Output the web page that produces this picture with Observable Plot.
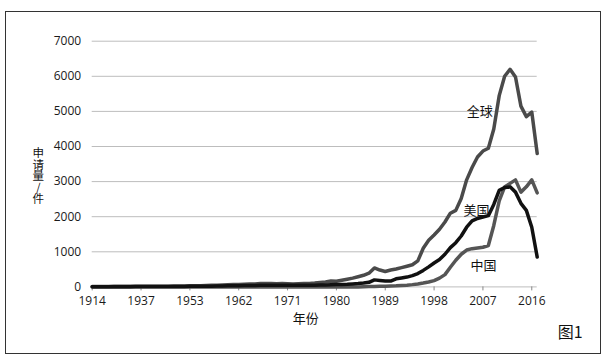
<!DOCTYPE html>
<html><head><meta charset="utf-8">
<script src="https://cdn.jsdelivr.net/npm/d3@7"></script>
<script src="https://cdn.jsdelivr.net/npm/@observablehq/plot@0.6"></script>
<style>
body{margin:0;background:#fff;}
#wrap{position:relative;width:610px;height:363px;}
#border{position:absolute;left:5px;top:11px;width:596px;height:343px;border:1px solid #333;box-sizing:border-box;}
#wrap svg{position:absolute;left:0;top:0;}
</style></head><body><div id="wrap"><div id="border"></div></div>
<script>
const years = [1914,1920,1922,1925,1927,1929,1931,1933,1935,1937,1939,1941,1943,1945,1947,1949,1950,1952,
1953,1954,1955,1956,1957,1958,1959,1960,1961,1962,1963,1964,1965,1966,1967,1968,1969,1970,
1971,1972,1973,1974,1975,1976,1977,1978,1979,1980,1981,1982,1983,1984,1985,1986,1987,1988,
1989,1990,1991,1992,1993,1994,1995,1996,1997,1998,1999,2000,2001,2002,2003,2004,2005,2006,
2007,2008,2009,2010,2011,2012,2013,2014,2015,2016,2017];
const tickYears = [1914,1937,1953,1962,1971,1980,1989,1998,2007,2016];
const yTicks = [0,1000,2000,3000,4000,5000,6000,7000];
const globalValues = [10,10,12,12,15,15,15,18,18,20,20,20,20,22,22,25,25,28,
30,32,35,40,45,50,55,60,65,70,75,80,85,95,100,95,90,95,
90,85,90,95,100,110,125,140,170,160,190,220,250,290,330,390,540,480,
440,480,510,550,590,630,740,1100,1330,1480,1640,1850,2100,2180,2520,3050,3400,3700,
3870,3950,4500,5450,6000,6200,5980,5150,4850,4980,3800];
const usValues = [5,5,5,5,6,6,6,6,8,8,8,8,10,10,10,12,12,12,
15,15,18,20,22,25,28,30,32,35,38,40,42,45,48,50,50,48,
46,45,45,46,48,50,52,55,60,65,70,75,85,95,110,130,200,185,
170,165,230,255,280,320,380,470,570,680,780,930,1120,1260,1450,1700,1880,1950,
1990,2030,2350,2750,2830,2850,2700,2380,2180,1700,850];
const chinaValues = [0,0,0,0,0,0,0,0,0,0,0,0,0,0,0,0,0,0,
0,0,0,0,0,0,0,0,0,0,0,0,0,0,0,0,0,0,
0,0,0,0,0,0,0,0,0,0,0,0,0,0,5,8,12,15,
20,25,30,40,50,65,85,110,140,180,250,350,560,760,930,1050,1090,1110,
1130,1180,1750,2450,2850,2950,3050,2700,2850,3050,2680];
const seriesNames = ["全球","美国","中国"];
const labelIdx = [71.4,70.8,72.1];
const labelVal = [5000,2177,610];
const yTitle = "申请量/件";

const rows = s => years.map((yr,i)=>({i, year:yr, v:s[i]}));
const labels = seriesNames.map((n,k)=>({name:n, i:labelIdx[k], v:labelVal[k]}));
const idxOf = y => years.indexOf(y);
const cjk = "'Noto Sans CJK SC', sans-serif";

const chart = Plot.plot({
  width:610, height:363,
  marginLeft:91.7, marginRight:73.3, marginTop:40.7, marginBottom:76.6,
  x:{type:"linear", domain:[0, years.length-1]},
  y:{domain:[0,7000]},
  style:{fontFamily:"'Open Sans', sans-serif", fontSize:"12px", color:"#1a1a1a", background:"transparent"},
  marks:[
    Plot.gridY(yTicks,{stroke:"#bdbdbd", strokeOpacity:1, strokeWidth:1}),
    Plot.axisY(yTicks,{tickSize:0, tickPadding:11, label:null, fontSize:12, tickFormat:d=>String(d)}),
    Plot.axisX(tickYears.map(idxOf),{tickSize:4, stroke:"#888", tickPadding:6, label:null, fontSize:12, tickFormat:i=>String(years[i])}),
    Plot.line(rows(globalValues),{x:"i", y:"v", stroke:"#4a4a4a", strokeWidth:3.5, strokeLinejoin:"round"}),
    Plot.line(rows(chinaValues),{x:"i", y:"v", stroke:"#555", strokeWidth:3.5, strokeLinejoin:"round"}),
    Plot.line(rows(usValues),{x:"i", y:"v", stroke:"#111", strokeWidth:3.5, strokeLinejoin:"round"}),
    Plot.text(labels,{x:"i", y:"v", text:"name", fontSize:13, fill:"#111", fontFamily:cjk}),
    Plot.text(["年份"],{frameAnchor:"bottom", text:d=>d, dx:-9, dy:36, fontSize:13, fill:"#111", fontFamily:cjk}),
    Plot.text([yTitle],{frameAnchor:"left", text:d=>d, dx:-54, dy:8, fontSize:11.5, textAnchor:"middle", fill:"#111", fontFamily:cjk}),
    Plot.text(["图1"],{frameAnchor:"bottom-right", text:d=>d, dx:33, dy:50.6, textAnchor:"middle", fontSize:16, fill:"#111", fontFamily:cjk})
  ]
});
chart.querySelectorAll("text").forEach(t => {
  if (t.textContent === yTitle) {
    t.style.writingMode = "vertical-rl";
    t.style.textOrientation = "upright";
    t.removeAttribute("dy");
  }
});
document.getElementById("wrap").appendChild(chart);
</script></body></html>
